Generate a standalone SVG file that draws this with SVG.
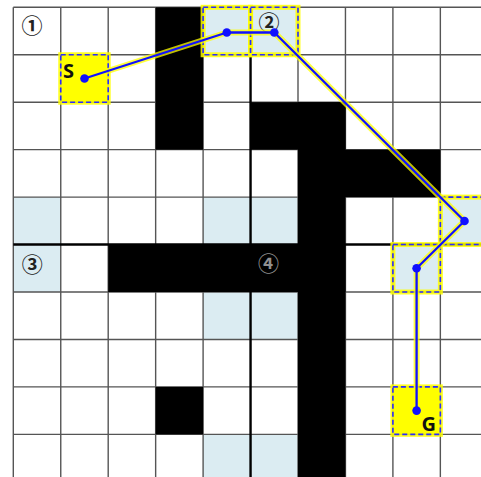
<svg xmlns="http://www.w3.org/2000/svg" width="481" height="477" viewBox="0 0 481 477">
<style>
.lb{fill:#dbecf2}
.blk{fill:#000}
.grid line{stroke:#555;stroke-width:1.4}
.glow{fill:none;stroke:#ffff00;stroke-width:5;stroke-opacity:0.85}
.dash{fill:none;stroke:#2b2bff;stroke-width:1.6;stroke-dasharray:5 3}
.num{font-family:"Noto Sans CJK KR","Noto Sans",sans-serif;font-size:21px;font-weight:bold;text-anchor:middle;fill:#222}
.lab{font-family:"Noto Sans","Liberation Sans",sans-serif;font-size:20px;font-weight:bold;fill:#111}
.dot{fill:#1010ff}
</style>
<rect width="481" height="477" fill="#fff"/>
<g id="fills">
<rect class="lb" x="203.1" y="7.3" width="47.45" height="47.45"/>
<rect class="lb" x="250.55" y="7.3" width="47.45" height="47.45"/>
<rect class="lb" x="13.3" y="197.1" width="47.45" height="94.9"/>
<rect class="lb" x="203.1" y="197.1" width="94.9" height="47.45"/>
<rect class="lb" x="440.35" y="197.1" width="47.45" height="47.45"/>
<rect class="lb" x="392.9" y="244.55" width="47.45" height="47.45"/>
<rect class="lb" x="203.1" y="292" width="94.9" height="47.45"/>
<rect class="lb" x="203.1" y="434.35" width="94.9" height="47.45"/>
<rect x="60.75" y="54.75" width="47.45" height="47.45" fill="#ffff00"/>
<rect x="392.9" y="386.9" width="47.45" height="47.45" fill="#ffff00"/>
</g>
<g class="grid">
<line x1="13.3" y1="7.3" x2="13.3" y2="477"/>
<line x1="60.75" y1="7.3" x2="60.75" y2="477"/>
<line x1="108.2" y1="7.3" x2="108.2" y2="477"/>
<line x1="155.65" y1="7.3" x2="155.65" y2="477"/>
<line x1="203.1" y1="7.3" x2="203.1" y2="477"/>
<line x1="298" y1="7.3" x2="298" y2="477"/>
<line x1="345.45" y1="7.3" x2="345.45" y2="477"/>
<line x1="392.9" y1="7.3" x2="392.9" y2="477"/>
<line x1="440.35" y1="7.3" x2="440.35" y2="477"/>
<line x1="13.3" y1="7.3" x2="481" y2="7.3"/>
<line x1="13.3" y1="54.75" x2="481" y2="54.75"/>
<line x1="13.3" y1="102.2" x2="481" y2="102.2"/>
<line x1="13.3" y1="149.65" x2="481" y2="149.65"/>
<line x1="13.3" y1="197.1" x2="481" y2="197.1"/>
<line x1="13.3" y1="292" x2="481" y2="292"/>
<line x1="13.3" y1="339.45" x2="481" y2="339.45"/>
<line x1="13.3" y1="386.9" x2="481" y2="386.9"/>
<line x1="13.3" y1="434.35" x2="481" y2="434.35"/>
</g>
<g id="walls">
<rect class="blk" x="155.65" y="7.3" width="47.45" height="142.35"/>
<rect class="blk" x="250.55" y="102.2" width="94.9" height="47.45"/>
<rect class="blk" x="298" y="149.65" width="142.35" height="47.45"/>
<rect class="blk" x="298" y="102.2" width="47.45" height="380"/>
<rect class="blk" x="108.2" y="244.55" width="237.25" height="47.45"/>
<rect class="blk" x="155.65" y="386.9" width="47.45" height="47.45"/>
</g>
<g id="dividers" stroke="#000" stroke-width="2.4">
<line x1="250.55" y1="7.3" x2="250.55" y2="477"/>
<line x1="13.3" y1="244.55" x2="481" y2="244.55"/>
</g>
<g id="labels">
<text class="num" x="32" y="32.5">①</text>
<text class="num" x="269" y="30">②</text>
<text class="num" x="32.3" y="271.5">③</text>
<text class="num" x="268.5" y="271" style="fill:#909090">④</text>
</g>
<g id="node-S">
<rect class="glow" x="60.75" y="54.75" width="47.45" height="47.45"/>
<rect class="dash" x="60.75" y="54.75" width="47.45" height="47.45"/>
<text class="lab" x="63" y="78">S</text>
</g>
<g id="node-a">
<rect class="glow" x="203.1" y="7.3" width="47.45" height="47.45"/>
<rect class="dash" x="203.1" y="7.3" width="47.45" height="47.45"/>
</g>
<g id="node-b">
<rect class="glow" x="250.55" y="7.3" width="47.45" height="47.45"/>
<rect class="dash" x="250.55" y="7.3" width="47.45" height="47.45"/>
</g>
<g id="node-c">
<rect class="glow" x="440.35" y="197.1" width="47.45" height="47.45"/>
<rect class="dash" x="440.35" y="197.1" width="47.45" height="47.45"/>
</g>
<g id="node-d">
<rect class="glow" x="392.9" y="244.55" width="47.45" height="47.45"/>
<rect class="dash" x="392.9" y="244.55" width="47.45" height="47.45"/>
</g>
<g id="node-G">
<rect class="glow" x="392.9" y="386.9" width="47.45" height="47.45"/>
<rect class="dash" x="392.9" y="386.9" width="47.45" height="47.45"/>
<text class="lab" x="421.5" y="431">G</text>
</g>
<g id="connectors" fill="none" stroke-linejoin="round" stroke-linecap="round">
<polyline points="84.5,78.5 226.8,32.5 274.3,32.5 464.5,221 416.6,268.3 416.6,410.6" stroke="#ffff00" stroke-width="6" stroke-opacity="0.75"/>
<polyline points="84.5,78.5 226.8,32.5 274.3,32.5 464.5,221 416.6,268.3 416.6,410.6" stroke="#1010ff" stroke-width="2.3"/>
<circle class="dot" cx="84.5" cy="78.5" r="4.3"/>
<circle class="dot" cx="226.8" cy="32.5" r="4.3"/>
<circle class="dot" cx="274.3" cy="32.5" r="4.3"/>
<circle class="dot" cx="464.5" cy="221" r="4.3"/>
<circle class="dot" cx="416.6" cy="268.3" r="4.3"/>
<circle class="dot" cx="416.6" cy="410.6" r="4.3"/>
</g>
</svg>
